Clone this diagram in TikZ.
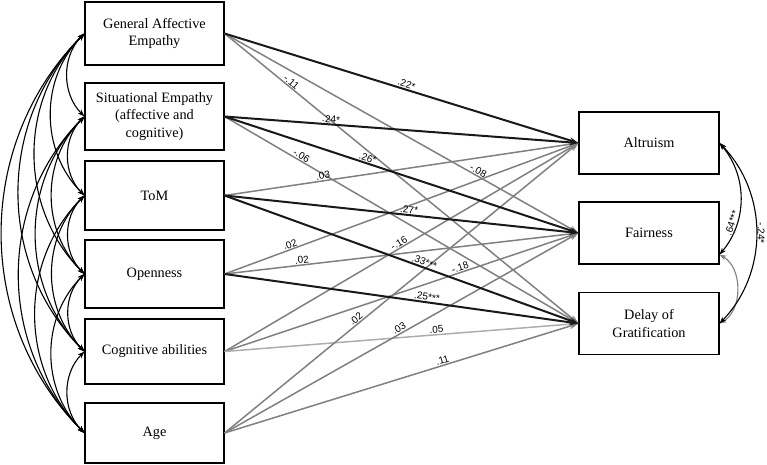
\documentclass[tikz,border=0pt]{standalone}
\usepackage{fontspec}
\setmainfont{Liberation Serif}
\newfontfamily\lblfont{Liberation Sans}
\usetikzlibrary{arrows.meta}
\begin{document}
\begin{tikzpicture}[x=1pt,y=-1pt,
 box/.style={draw, line width=1.1pt, align=center, inner sep=0pt, minimum width=139pt, font=\fontsize{14.3}{17.5}\selectfont},
 rbox/.style={box, minimum width=140pt, minimum height=62pt},
 tip/.style={-{Stealth[length=9pt,width=6pt]}},
 blk/.style={tip, line width=2pt, draw=black!90},
 gry/.style={tip, line width=1.5pt, draw=black!50},
 lgry/.style={tip, line width=1.5pt, draw=black!32},
 lbl/.style={font=\lblfont\fontsize{10}{11}\selectfont, sloped, above, inner sep=0.8pt},
 corr/.style={line width=1.1pt, draw=black, {Stealth[length=7pt,width=5pt]}-{Stealth[length=7pt,width=5pt]}},
 gcorr/.style={corr, draw=black!50},
]
\useasboundingbox (0,0) rectangle (767,465);
% left boxes
\node[box, minimum height=63pt] (G) at (154.5,33.5) {General Affective\\Empathy};
\node[box, minimum height=67pt] (S) at (154.5,116.5) {Situational Empathy\\(affective and\\cognitive)};
\node[box, minimum height=69pt] (T) at (154.5,195.5) {ToM};
\node[box, minimum height=68pt] (O) at (154.5,274) {Openness};
\node[box, minimum height=65pt] (C) at (154.5,351.5) {Cognitive abilities};
\node[box, minimum height=60pt] (A) at (154.5,433) {Age};
% right boxes
\node[rbox] (Al) at (649,143) {Altruism};
\node[rbox] (F) at (649,233) {Fairness};
\node[rbox] (D) at (649,323.5) {Delay of\\Gratification};
% gray paths
\draw[gry] (G.east) -- node[lbl, pos=0.71] {-.08} (F.west);
\draw[gry] (G.east) -- node[lbl, pos=0.18] {-.11} (D.west);
\draw[gry] (S.east) -- node[lbl, pos=0.21] {-.06} (D.west);
\draw[gry] (T.east) -- node[lbl, pos=0.28] {.03} (Al.west);
\draw[gry] (O.east) -- node[lbl, pos=0.19] {.02} (Al.west);
\draw[gry] (O.east) -- node[lbl, pos=0.22] {.02} (F.west);
\draw[gry] (C.east) -- node[lbl, pos=0.50] {-.16} (Al.west);
\draw[gry] (C.east) -- node[lbl, pos=0.67] {-.18} (F.west);
\draw[lgry] (C.east) -- node[lbl, pos=0.60] {.05} (D.west);
\draw[gry] (A.east) -- node[lbl, pos=0.38] {.02} (Al.west);
\draw[gry] (A.east) -- node[lbl, pos=0.50] {.03} (F.west);
\draw[gry] (A.east) -- node[lbl, pos=0.62] {.11} (D.west);
% black paths
\draw[blk] (G.east) -- node[lbl, pos=0.51] {.22*} (Al.west);
\draw[blk] (S.east) -- node[lbl, pos=0.30] {.24*} (Al.west);
\draw[blk] (S.east) -- node[lbl, pos=0.40] {.26*} (F.west);
\draw[blk] (T.east) -- node[lbl, pos=0.52] {.27*} (F.west);
\draw[blk] (T.east) -- node[lbl, pos=0.56] {.33***} (D.west);
\draw[blk] (O.east) -- node[lbl, pos=0.57] {.25***} (D.west);
% left correlations
\foreach \a/\b in {G/S,G/T,G/O,G/C,G/A,S/T,S/O,S/C,S/A,T/O,T/C,T/A,O/C,O/A,C/A}
  \draw[corr] (\a.west) to[bend right=45] (\b.west);
% right correlations
\draw[gcorr] (F.343) to[bend left=60] (D.east);
\draw[corr] (Al.east) to[bend left=40] node[lbl, pos=0.72] {.64***} (F.343);
\draw[corr] (Al.east) to[bend left=44] node[lbl, pos=0.5] {-.24*} (D.east);
\end{tikzpicture}
\end{document}
